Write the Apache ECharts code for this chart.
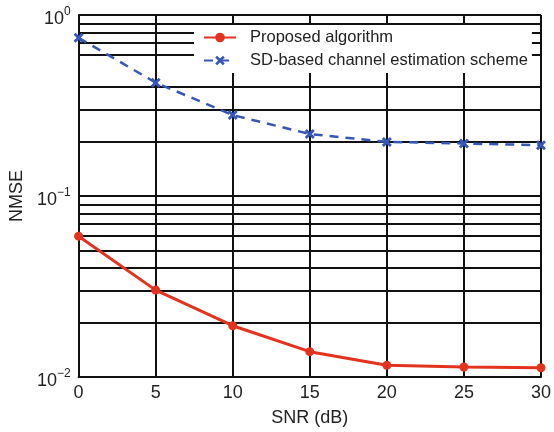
<!DOCTYPE html>
<html>
<head>
<meta charset="utf-8">
<script src="https://cdn.jsdelivr.net/npm/echarts@6/dist/echarts.min.js"></script>
<style>html,body{margin:0;padding:0;background:#fff}#c{width:554px;height:432px}</style>
</head>
<body>
<div id="c"></div>
<script>
var snr = [0, 5, 10, 15, 20, 25, 30];
var proposed = [0.0600, 0.0302, 0.0192, 0.0138, 0.0116, 0.01135, 0.01125];
var sdBased = [0.748, 0.423, 0.280, 0.220, 0.199, 0.195, 0.191];
var seriesNames = ['Proposed algorithm', 'SD-based channel estimation scheme'];
var minorGridValues = [0.02, 0.03, 0.04, 0.05, 0.06, 0.07, 0.08, 0.09,
                       0.2, 0.3, 0.4, 0.6, 0.7, 0.8, 0.9];

function pairs(xs, ys) { return xs.map(function (x, i) { return [x, ys[i]]; }); }

var font = '"Liberation Sans", Arial, sans-serif';
var xMark = 'path://M2,0 L5,3 L8,0 L10,2 L7,5 L10,8 L8,10 L5,7 L2,10 L0,8 L3,5 L0,2 Z';

var chart = echarts.init(document.getElementById('c'), null, {renderer: 'canvas'});
chart.setOption({
  animation: false,
  backgroundColor: '#fff',
  textStyle: {fontFamily: font},
  grid: {left: 77, right: 13, top: 15, bottom: 53, containLabel: false},
  legend: {
    data: seriesNames,
    orient: 'vertical',
    left: 194, top: 25,
    z: 20, zlevel: 0,
    padding: [4, 4, 4, 9],
    itemWidth: 32, itemHeight: 12, itemGap: 6,
    backgroundColor: '#ffffff',
    textStyle: {fontFamily: font, fontSize: 16.5, color: '#222', padding: [0, 0, 0, 9]}
  },
  xAxis: {
    type: 'value', min: 0, max: 30, interval: 5,
    name: 'SNR (dB)', nameLocation: 'middle', nameGap: 32,
    nameTextStyle: {fontFamily: font, fontSize: 18, color: '#222'},
    axisLine: {show: true, onZero: false, lineStyle: {color: '#111', width: 2}},
    axisTick: {show: false},
    axisLabel: {fontFamily: font, fontSize: 18, color: '#222', margin: 7},
    splitLine: {show: true, lineStyle: {color: '#111', width: 2}}
  },
  yAxis: {
    type: 'log', logBase: 10, min: 0.01, max: 1,
    name: 'NMSE', nameLocation: 'middle', nameGap: 50, nameRotate: 90,
    nameTextStyle: {fontFamily: font, fontSize: 18, color: '#222'},
    axisLine: {show: true, lineStyle: {color: '#111', width: 2}},
    axisTick: {show: false},
    axisLabel: {
      margin: 8,
      formatter: function (v) {
        var e = Math.round(Math.log10(v));
        return '{b|10}{s|' + (e < 0 ? '\u2212' + (-e) : e) + '}';
      },
      rich: {
        b: {fontFamily: font, fontSize: 18, color: '#222', padding: [8, 0, 0, 0]},
        s: {fontFamily: font, fontSize: 12, color: '#222', padding: [0, 0, 6, 0]}
      }
    },
    splitLine: {show: true, lineStyle: {color: '#111', width: 2}}
  },
  series: [
    {
      name: 'minor-grid', type: 'line', data: [], z: 1, silent: true,
      markLine: {
        silent: true, symbol: ['none', 'none'], animation: false,
        label: {show: false},
        lineStyle: {color: '#111', width: 2, type: 'solid'},
        emphasis: {disabled: true},
        data: minorGridValues.map(function (v) { return {yAxis: v}; })
      }
    },
    {
      name: seriesNames[0], type: 'line', z: 5,
      data: pairs(snr, proposed),
      symbol: 'circle', symbolSize: 9,
      lineStyle: {color: '#e3321e', width: 3},
      itemStyle: {color: '#e3321e'}
    },
    {
      name: seriesNames[1], type: 'line', z: 5,
      data: pairs(snr, sdBased),
      symbol: xMark, symbolSize: 10,
      lineStyle: {color: '#3657b8', width: 2.5, type: [9, 7]},
      itemStyle: {color: '#3657b8'}
    }
  ]
});
</script>
</body>
</html>
